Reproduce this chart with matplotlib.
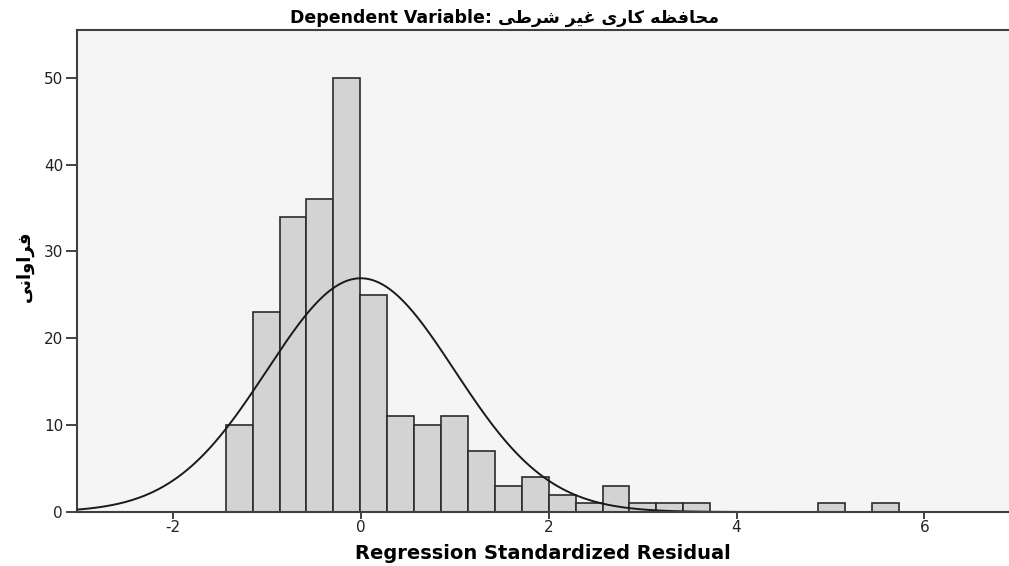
import numpy as np
import matplotlib
matplotlib.use('Agg')
import matplotlib.pyplot as plt

# %%
# histogram of regression standardized residuals (SPSS output)
bin_start = -1.437
bin_width = 0.2865
counts = [10, 23, 34, 36, 50, 25, 11, 10, 11, 7, 3, 4, 2, 1, 3, 1, 1, 1,
          0, 0, 0, 0, 1, 0, 1]
resid_mean = 0.0
resid_std = 0.998

xticks = [-2, 0, 2, 4, 6]
yticks = [0, 10, 20, 30, 40, 50]

# Persian text written in visual order with Arabic presentation forms,
# because matplotlib does no shaping / bidi on its own
dep_var = ('\uFEF0\uFEC3\uFEAE\uFEB7 '            # shorti
           '\uFEAE\uFEF4\uFECF '                  # gheir
           '\uFEEF\uFEAD\uFE8E\uFEDB '            # kari
           '\uFEEA\uFEC8\uFED3\uFE8E\uFEA4\uFEE3')  # mohafezeh
freq_label = '\uFEF0\uFEE7\uFE8D\uFEED\uFE8D\uFEAE\uFED3'  # faravani

# %%
plt.rcParams['font.family'] = ['DejaVu Sans']
plt.rcParams['axes.unicode_minus'] = False

fig = plt.figure(figsize=(10.09, 5.66), dpi=100)
ax = fig.add_axes([0.0763, 0.0954, 0.9237, 0.8516])
ax.set_facecolor('#f5f5f5')

lefts = bin_start + bin_width * np.arange(len(counts))
ax.bar(lefts, counts, width=bin_width, align='edge',
       color='#d3d3d3', edgecolor='#2b2b2b', linewidth=1.2, zorder=2)

n = sum(counts)
xs = np.linspace(-3.1, 7.0, 600)
ys = n * bin_width / (resid_std * np.sqrt(2 * np.pi)) * np.exp(-0.5 * ((xs - resid_mean) / resid_std) ** 2)
ax.plot(xs, ys, color='#1a1a1a', linewidth=1.4, zorder=3)

ax.set_xlim(-3.02, 6.9)
ax.set_ylim(0, 55.5)
ax.set_xticks(xticks)
ax.set_yticks(yticks)
ax.tick_params(axis='x', direction='out', length=5, width=1.2, colors='#222222', labelsize=11, pad=1)
ax.tick_params(axis='y', direction='out', length=8, width=1.2, colors='#222222', labelsize=11, pad=2)

for side in ['left', 'top', 'bottom']:
    ax.spines[side].set_color('#404040')
    ax.spines[side].set_linewidth(1.5)
ax.spines['right'].set_visible(False)
ax.spines['bottom'].set_zorder(4)

ax.set_xlabel('Regression Standardized Residual', fontsize=14, fontweight='bold', labelpad=6)
ax.set_ylabel(freq_label, fontsize=13, fontweight='bold')
ax.yaxis.set_label_coords(-0.046, 0.51)

fig.text(0.5, 0.968, 'Dependent Variable: ' + dep_var, ha='center', va='center',
         fontsize=12.5, fontweight='bold')

fig.savefig('out.png', dpi=100)
